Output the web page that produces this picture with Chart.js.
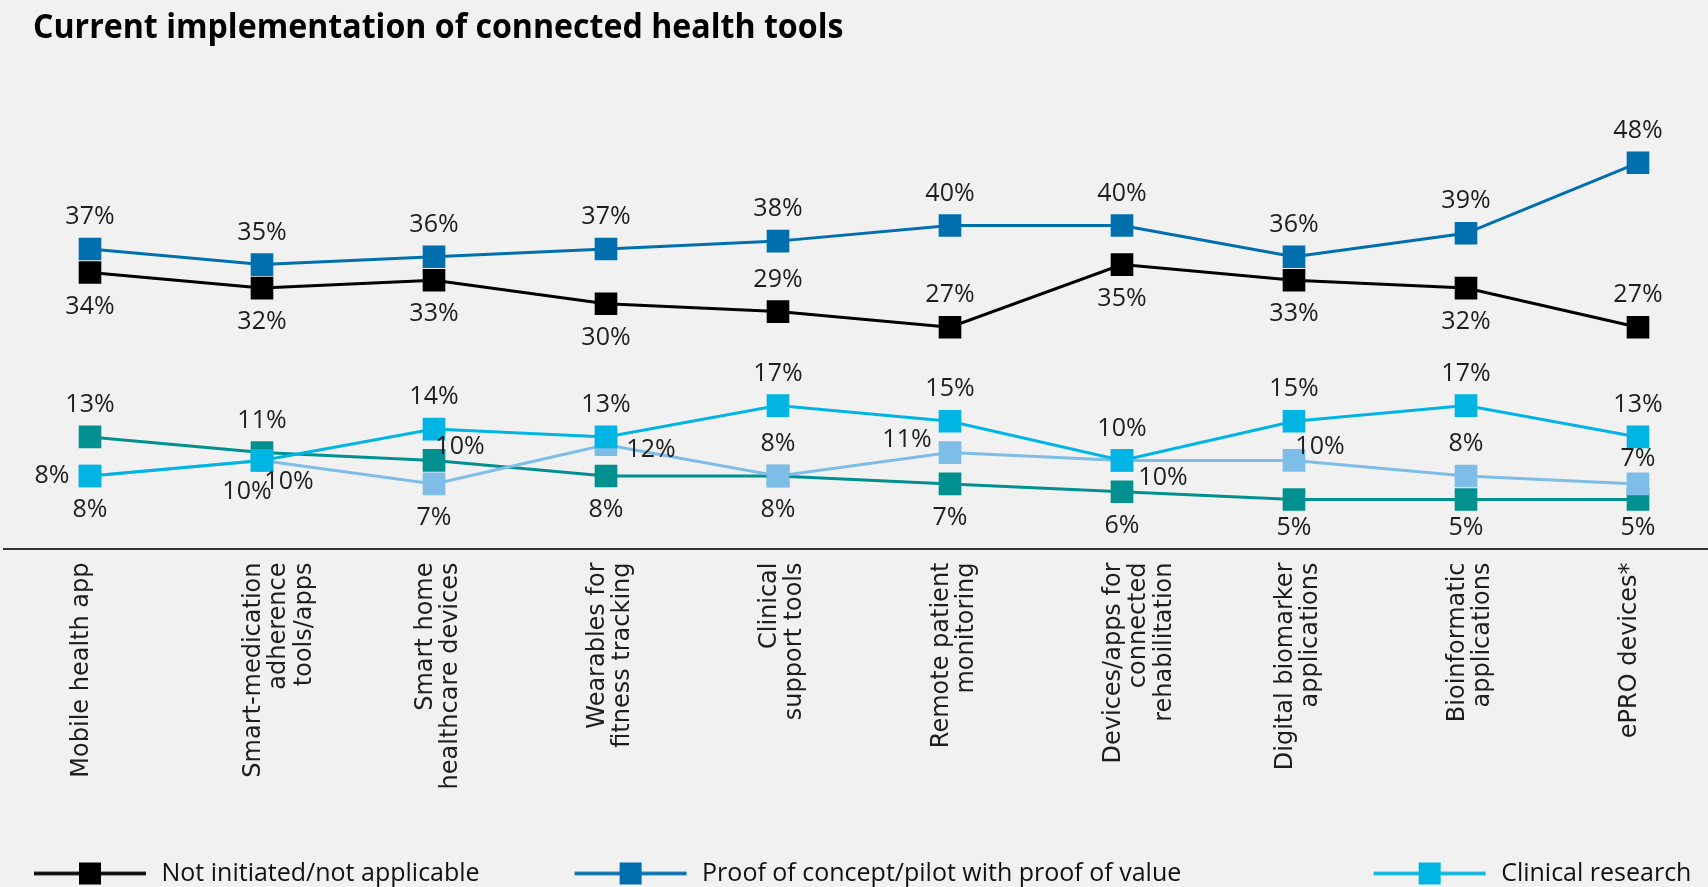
<!DOCTYPE html>
<html>
<head>
<meta charset="utf-8">
<script src="https://cdn.jsdelivr.net/npm/chart.js@4.4.1/dist/chart.umd.min.js"></script>
<style>
html, body { margin: 0; padding: 0; background: #f1f1f1; overflow: hidden; }
/* canvas is a bit wider than the window: the plot runs off both edges like the original */
#wrap { position: absolute; left: -12px; top: 0; width: 1752px; height: 941px; }
#title { position: absolute; left: 33px; top: 8px; font: 700 34px/34px "Open Sans"; color: #000;
  white-space: nowrap; transform-origin: left top; transform: scaleX(0.945); }
</style>
</head>
<body>
<div id="wrap"><canvas id="chart"></canvas></div>
<div id="title">Current implementation of connected health tools</div>
<script>
var tools = [
    ["Mobile health app"],
    ["Smart-medication", "adherence", "tools/apps"],
    ["Smart home", "healthcare devices"],
    ["Wearables for", "fitness tracking"],
    ["Clinical", "support tools"],
    ["Remote patient", "monitoring"],
    ["Devices/apps for", "connected", "rehabilitation"],
    ["Digital biomarker", "applications"],
    ["Bioinformatic", "applications"],
    ["ePRO devices*"]
];
var notInitiated = [34, 32, 33, 30, 29, 27, 35, 33, 32, 27];
var proofOfConcept = [37, 35, 36, 37, 38, 40, 40, 36, 39, 48];
var clinicalResearch = [8, 10, 14, 13, 17, 15, 10, 15, 17, 13];
var commercialUse = [8, 10, 7, 12, 8, 11, 10, 10, 8, 7];
var scaledUse = [13, 11, 10, 8, 8, 7, 6, 5, 5, 5];

// where each value label sits next to its point
var sidesNot = ['B','B','B','B','T','T','B','B','B','T'];
var sidesProof = ['T','T','T','T','T','T','T','T','T','T'];
var sidesClinical = ['L','BL','T','T','T','T','T','T','T','T'];
var sidesCommercial = ['B','BR','B','R','T','TL','RB','TR','T','TC'];
var sidesScaled = ['T','T','TR','B','B','B','B','BC','BC','BC'];

var shifts = {
    T: [0, -32], B: [0, 34], L: [-38, 0], R: [45, 5],
    TR: [26, -14], BR: [27, 21], TL: [-43, -13], BL: [-15, 31],
    RB: [41, 17], TC: [0, -25], BC: [0, 28]
};

function marker(color) {
    var c = document.createElement('canvas');
    c.width = 125; c.height = 24;
    var g = c.getContext('2d');
    g.strokeStyle = color;
    g.lineWidth = 3.5;
    g.beginPath(); g.moveTo(10, 12); g.lineTo(122, 12); g.stroke();
    g.fillStyle = color;
    g.fillRect(55, 1, 22, 22);
    return c;
}

function series(label, data, color, sides, pad) {
    return {
        label: label,
        data: data,
        sides: sides,
        legendPad: pad,
        borderColor: color,
        backgroundColor: color,
        borderWidth: 3,
        tension: 0,
        pointStyle: 'rect',
        pointRadius: 16,
        pointHoverRadius: 16,
        pointBorderWidth: 0,
        pointBackgroundColor: color,
        marker: marker(color)
    };
}

var valueLabels = {
    id: 'valueLabels',
    afterDatasetsDraw: function(chart) {
        var ctx = chart.ctx;
        ctx.save();
        ctx.font = '400 25px "Open Sans"';
        ctx.fillStyle = '#1e1e1e';
        ctx.textAlign = 'center';
        ctx.textBaseline = 'middle';
        chart.data.datasets.forEach(function(ds, i) {
            chart.getDatasetMeta(i).data.forEach(function(pt, j) {
                var s = shifts[ds.sides[j]];
                ctx.fillText(ds.data[j] + '%', pt.x + s[0], pt.y + s[1]);
            });
        });
        ctx.restore();
    }
};

var ctx = document.getElementById('chart');
var chart = new Chart(ctx, {
    type: 'line',
    data: {
        labels: tools,
        datasets: [
            series('Not initiated/not applicable', notInitiated, '#000000', sidesNot, 10),
            series('Proof of concept/pilot with proof of value', proofOfConcept, '#006fae', sidesProof, 25),
            series('Clinical research', clinicalResearch, '#00b5e3', sidesClinical, 0),
            series('Commercial/real-world use', commercialUse, '#7dbde8', sidesCommercial, 0),
            series('Scaled across the organization', scaledUse, '#00908f', sidesScaled, 0)
        ]
    },
    options: {
        responsive: true,
        maintainAspectRatio: false,
        animation: false,
        layout: { padding: { top: 61, left: 16, right: 16, bottom: 0 } },
        scales: {
            x: {
                offset: true,
                grid: { display: false },
                border: { display: true, color: '#333333', width: 2 },
                ticks: {
                    autoSkip: false,
                    minRotation: 90,
                    maxRotation: 90,
                    padding: 6,
                    labelOffset: -8,
                    color: '#1e1e1e',
                    font: { family: 'DejaVu Sans', size: 24, lineHeight: 1.05 }
                },
                afterFit: function(scale) { scale.height = 292.5; }
            },
            y: { display: false, min: -1.25, max: 61 }
        },
        plugins: {
            tooltip: { enabled: false },
            legend: {
                position: 'bottom',
                align: 'start',
                labels: {
                    usePointStyle: true,
                    pointStyleWidth: 125,
                    padding: 20,
                    color: '#111111',
                    font: { family: 'Open Sans', size: 25 },
                    generateLabels: function(chart) {
                        var items = Chart.defaults.plugins.legend.labels.generateLabels(chart);
                        items.forEach(function(it) {
                            var ds = chart.data.datasets[it.datasetIndex];
                            it.pointStyle = ds.marker;
                            it.text = ds.label + ' '.repeat(ds.legendPad);
                        });
                        return items;
                    }
                }
            }
        }
    },
    plugins: [valueLabels]
});
</script>
</body>
</html>
